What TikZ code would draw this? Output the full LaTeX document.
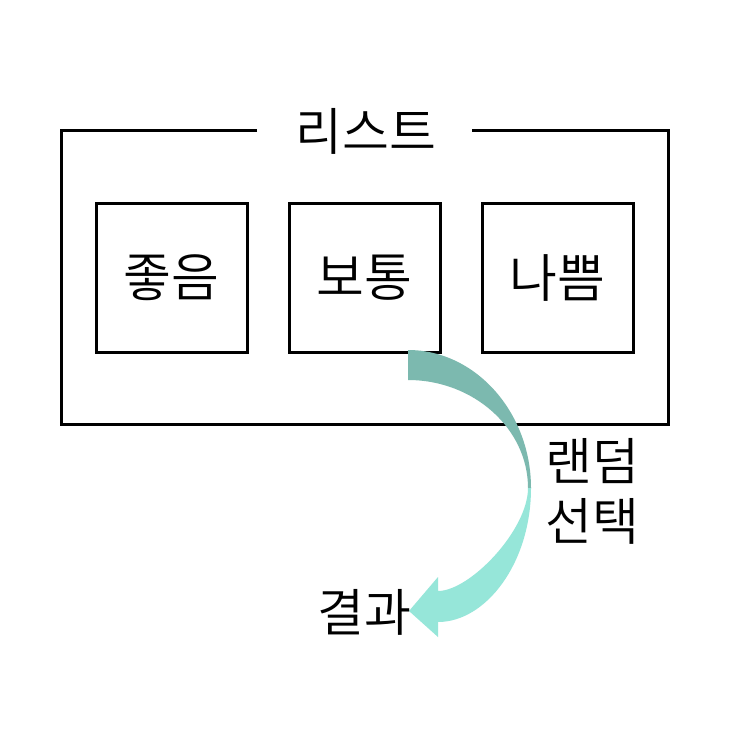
\documentclass[tikz,border=0pt]{standalone}
\usepackage{fontspec}
\setmainfont{Noto Sans CJK KR}[UprightFont=* DemiLight]
\definecolor{arrowdark}{HTML}{7CB9AF}
\definecolor{arrowlight}{HTML}{96E6D9}
\begin{document}
\begin{tikzpicture}[x=1pt,y=-1pt,
  frame/.style={draw=black,line width=3pt},
  itembox/.style={draw=black,line width=3pt,minimum width=151pt,minimum height=148pt,inner sep=0pt,
     font=\fontsize{52}{58}\selectfont},
  lbl/.style={inner sep=0pt,font=\fontsize{51}{60}\selectfont,align=center}]
\useasboundingbox (0,0) rectangle (743,743);
\fill[white] (0,0) rectangle (743,743);
% outer list frame with gap for title
\draw[frame] (257,131) -- (61,131) -- (61,424) -- (668,424) -- (668,131) -- (472,131);
\node[lbl] (title) at (366,131) {리스트};
\node[itembox] (good) at (171.5,278) {좋음};
\node[itembox] (normal) at (364.5,278) {보통};
\node[itembox] (bad) at (557.5,278) {나쁨};
% curved arrow
\fill[arrowdark] (408,350) .. controls (476,350) and (531,413) .. (531,488)
   -- (528,488) .. controls (528,429) and (474,380) .. (408,380) -- cycle;
\fill[arrowlight] (531,488) .. controls (531,563) and (486,622) .. (438,622)
   -- (438,637) -- (409,611) -- (438,577) -- (438,591)
   .. controls (470,591) and (528,530) .. (528,488) -- cycle;
\node[lbl] (pick) at (592,491) {랜덤\\선택};
\node[lbl] (result) at (364,612) {결과};
\end{tikzpicture}
\end{document}
